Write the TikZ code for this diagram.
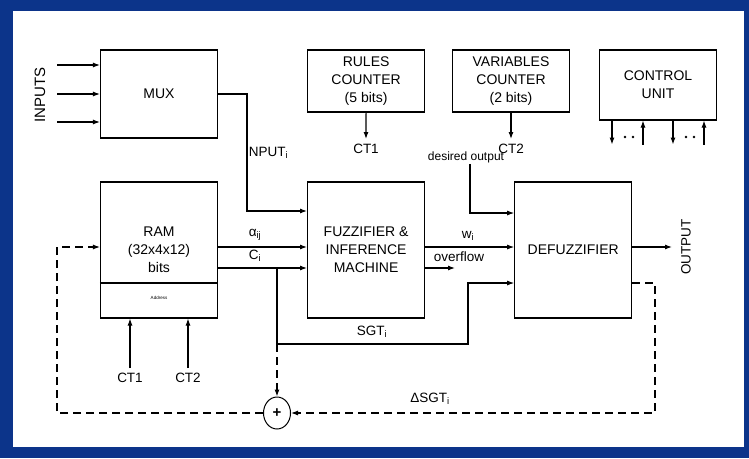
\documentclass[tikz,border=0pt]{standalone}
\usepackage{fontspec}
\setmainfont{Liberation Sans}
\usetikzlibrary{arrows.meta, positioning, shapes.geometric, calc}
\definecolor{frameblue}{RGB}{12,52,138}

\begin{document}
\begin{tikzpicture}[
x=1pt, y=-1pt,
node distance=89pt,
block/.style={draw, line width=1.1pt, minimum width=117pt, minimum height=136pt, align=center, inner sep=0pt, font=\fontsize{14}{18}\selectfont},
counter/.style={block, minimum height=62pt},
lbl/.style={inner sep=1pt, font=\fontsize{13.5}{15}\selectfont},
arrow/.style={-{Latex[length=7pt,width=5pt]}, line width=1.1pt},
dasharrow/.style={arrow, dash pattern=on 8pt off 5pt}
]
% frame
\fill[frameblue] (0,0) rectangle (749,458);
\fill[white] (13,11) rectangle (744,447);

% blocks
\node[block, minimum height=88pt] (mux) at (159,94) {MUX};
\node[block] (ram) at (159,250) {RAM\\(32x4x12)\\bits};
\node[block, right=of ram] (fuzz) {FUZZIFIER \&\\INFERENCE\\MACHINE};
\node[block, right=of fuzz] (defuzz) {DEFUZZIFIER};
\node[counter] (rules) at (fuzz |- 0,81) {RULES\\COUNTER\\(5 bits)};
\node[counter] (vars) at (511,81) {VARIABLES\\COUNTER\\(2 bits)};
\node[counter, minimum height=70pt] (ctrl) at (658,85) {CONTROL\\UNIT};
\draw[line width=1.1pt] (ram.west |- 0,283) -- (ram.east |- 0,283);
\node[font=\fontsize{4.5}{5}\selectfont] (addr) at (159,298) {Address};
\node[draw, ellipse, line width=1pt, minimum width=27pt, minimum height=32pt, inner sep=0pt, font=\fontsize{15}{15}\selectfont\bfseries] (sum) at (277,413) {+};

% labels
\node[lbl, rotate=90, font=\fontsize{15}{16}\selectfont] (inputs) at (40,95) {INPUTS};
\node[lbl, rotate=90] (output) at (686,247) {OUTPUT};
\node[lbl, anchor=west] (inlbl) at (244,153) {INPUT\textsubscript{i}};
\node[lbl] (alpha) at (255,235) {α\textsubscript{ij}};
\node[lbl] (clbl) at (255,256) {C\textsubscript{i}};
\node[lbl] (wlbl) at (468,236) {w\textsubscript{i}};
\node[lbl] (ovf) at (459,257) {overflow};
\node[lbl] (sgt) at (372,332) {SGT\textsubscript{i}};
\node[lbl] (dsgt) at (430,399) {ΔSGT\textsubscript{i}};
\node[font=\fontsize{12}{13}\selectfont, inner sep=1pt] (desired) at (466,157) {desired output};
\node[lbl] (ct1) at (366,149) {CT1};
\node[lbl] (ct2) at (511,149) {CT2};
\node[lbl] (ct3) at (130,378) {CT1};
\node[lbl] (ct4) at (188,378) {CT2};

\coordinate (in1) at (57,65);
\coordinate (in2) at (57,94);
\coordinate (in3) at (57,122);
\coordinate (inp) at (247,211);
\coordinate (br) at (277,268);
\coordinate (sgtturn) at (468,344);
\coordinate (ovfend) at (455,268);
\coordinate (outend) at (672,247);
\coordinate (fbr) at (655,413);
\coordinate (fbl) at (57,413);

% connectors
\foreach \c in {in1,in2,in3}
  \draw[arrow] (\c) -- (\c -| mux.west);
\draw[arrow] (mux.east) -| (inp) -- (inp -| fuzz.west);
\draw[arrow] ([yshift=3pt]ram.east) -- ([yshift=3pt]fuzz.west);
\draw[arrow] (ram.east |- br) -- (br -| fuzz.west);
\draw[arrow] (fuzz.east |- outend) -- (outend -| defuzz.west);
\draw[arrow] (fuzz.east |- ovfend) -- (ovfend);
\draw[arrow] (defuzz.east |- outend) -- (outend);
\draw[arrow] ([xshift=4pt]desired.south) |- (defuzz.west |- 0,213);
\draw[arrow] (br) |- (sgtturn) |- ([yshift=-33pt]defuzz.west);
\draw[arrow] (rules) -- ([yshift=4pt]ct1.north);
\draw[arrow] (vars) -- ([yshift=4pt]ct2.north);
\draw[arrow] ([yshift=4pt]ct3.north) -- (ct3 |- ram.south);
\draw[arrow] ([yshift=4pt]ct4.north) -- (ct4 |- ram.south);
\foreach \x in {612,673}
  \draw[arrow] (ctrl.south -| \x,0) -- ++(0,24);
\foreach \x in {643,704}
  \draw[arrow] (ctrl.south -| \x,0) ++(0,24) -- (ctrl.south -| \x,0);
\foreach \x in {625,633,686,694}
  \fill (\x,137) circle (1.3pt);

% feedback
\draw[dasharrow] (br |- sgtturn) -- (sum);
\draw[dasharrow] ([yshift=-33pt]defuzz.east) -| (fbr) -- (sum);
\draw[dasharrow] (sum) -- (fbl) |- ([yshift=3pt]ram.west);
\end{tikzpicture}
\end{document}
